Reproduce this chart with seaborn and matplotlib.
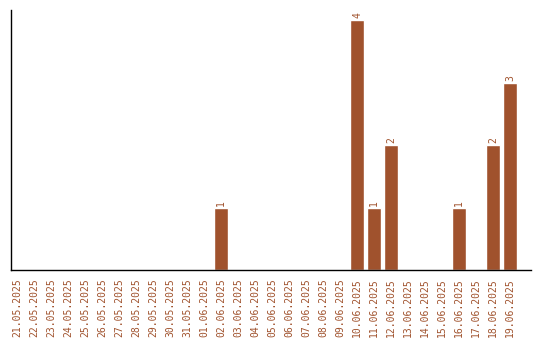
import matplotlib
matplotlib.use("Agg")
import matplotlib.pyplot as plt
import seaborn as sns
import pandas as pd

dates = ["21.05.2025", "22.05.2025", "23.05.2025", "24.05.2025", "25.05.2025",
         "26.05.2025", "27.05.2025", "28.05.2025", "29.05.2025", "30.05.2025",
         "31.05.2025", "01.06.2025", "02.06.2025", "03.06.2025", "04.06.2025",
         "05.06.2025", "06.06.2025", "07.06.2025", "08.06.2025", "09.06.2025",
         "10.06.2025", "11.06.2025", "12.06.2025", "13.06.2025", "14.06.2025",
         "15.06.2025", "16.06.2025", "17.06.2025", "18.06.2025", "19.06.2025"]
counts = [0, 0, 0, 0, 0, 0, 0, 0, 0, 0,
          0, 0, 1, 0, 0, 0, 0, 0, 0, 0,
          4, 1, 2, 0, 0, 0, 1, 0, 2, 3]

color = "#A0522D"
sns.set_style("white")
plt.rcParams['font.family'] = ['DejaVu Sans Mono']

df = pd.DataFrame({"date": dates, "count": counts})
fig = plt.figure(figsize=(5.4, 3.4), dpi=100)
ax = fig.add_axes([10.5/540, 70/340, 520/540, 260/340])
sns.barplot(data=df, x="date", y="count", color=color, saturation=1, width=0.82, ax=ax)

for i, v in enumerate(counts):
    if v > 0:
        ax.text(i, v + 0.03, str(v), rotation=90, ha="center", va="bottom",
                color=color, fontsize=7)

ax.set_ylim(0, 4.16)
ax.set_xlim(-0.38, 30.2)
ax.set_yticks([])
ax.set_xlabel("")
ax.set_ylabel("")
ax.tick_params(axis="x", length=0, pad=6, labelsize=7, labelcolor=color, rotation=90)
for s in ["top", "right"]:
    ax.spines[s].set_visible(False)
for s in ["left", "bottom"]:
    ax.spines[s].set_color("black")
    ax.spines[s].set_linewidth(1.0)

fig.savefig("out.png", dpi=100)
